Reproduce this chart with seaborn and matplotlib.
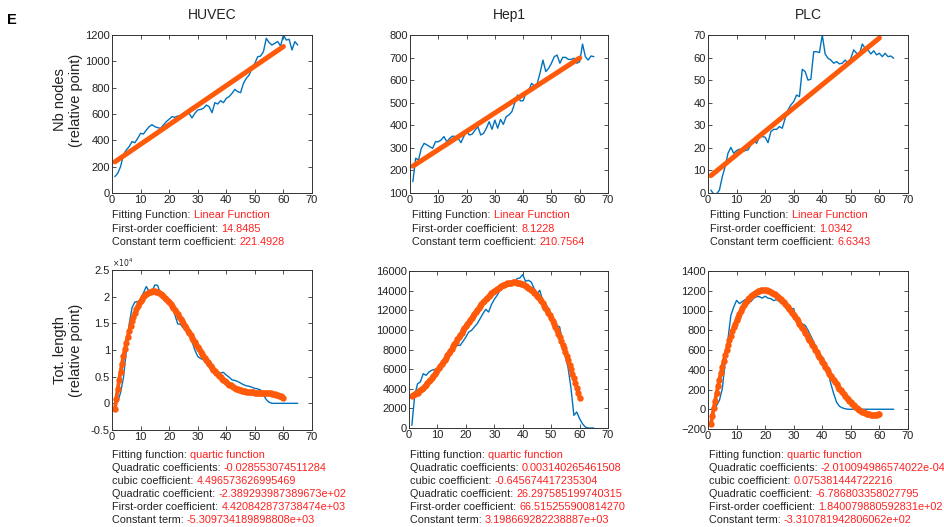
import numpy as np
import pandas as pd
import seaborn as sns
import matplotlib.pyplot as plt

# Raw curves, x = 1..65
days = list(range(1, 66))

huvec_nodes = [124, 150, 200, 290, 327, 352, 390, 382, 415, 453,
               448, 478, 504, 519, 504, 496, 491, 516, 542, 560,
               580, 575, 585, 585, 592, 618, 605, 570, 605, 630,
               635, 643, 668, 656, 610, 686, 676, 701, 686, 719,
               732, 757, 787, 770, 762, 833, 871, 896, 947, 985,
               1035, 1040, 1073, 1175, 1142, 1124, 1137, 1150, 1116, 1200,
               1162, 1167, 1086, 1150, 1124]
hep1_nodes = [150, 254, 246, 298, 320, 313, 305, 298, 327, 327,
              335, 350, 327, 342, 352, 350, 342, 323, 350, 372,
              357, 361, 379, 394, 357, 364, 387, 416, 382, 423,
              387, 426, 404, 438, 446, 460, 497, 534, 508, 509,
              542, 556, 586, 574, 586, 633, 689, 638, 652, 675,
              704, 711, 675, 701, 701, 692, 692, 697, 675, 682,
              760, 704, 689, 707, 704]
plc_nodes = [1.3, -0.5, -0.4, 1.3, 7.2, 11.7, 17.6, 20.2, 17.6, 18.8,
             19.4, 18.3, 18.8, 19.1, 21.3, 23.5, 22.0, 25.0, 25.0, 24.7,
             22.3, 27.2, 28.2, 28.2, 29.4, 28.7, 33.1, 36.8, 39.0, 40.5,
             43.4, 42.7, 54.8, 53.8, 50.0, 50.4, 62.6, 62.6, 62.2, 70.0,
             61.6, 59.7, 58.9, 57.5, 58.2, 57.2, 57.5, 58.9, 57.5, 59.7,
             63.4, 61.9, 61.6, 66.0, 64.1, 63.4, 61.6, 63.0, 61.2, 61.9,
             60.4, 61.9, 60.4, 60.7, 59.7]

huvec_len = [-400, 300, 2000, 4800, 9800, 14800, 17900, 19000, 19100, 19400,
             20700, 21900, 21000, 21000, 22200, 22100, 20400, 19600, 19300, 19100,
             18200, 16600, 14900, 14800, 14100, 13600, 12800, 11600, 10000, 8800,
             8400, 8200, 7500, 6800, 6300, 6000, 5800, 5700, 5800, 5300,
             4900, 4400, 4300, 4100, 3800, 3500, 3300, 3200, 3000, 2800,
             2700, 2500, 1600, 700, 200, 0, 0, 0, 0, 0,
             0, 0, 0, 0, 0]
hep1_len = [270, 3300, 4500, 4700, 5540, 5370, 5700, 5880, 5980, 5770,
            6220, 6730, 7070, 7130, 7750, 8250, 8420, 8420, 8830, 9270,
            9780, 9950, 10300, 10630, 11140, 11650, 12090, 11820, 12570, 13110,
            13520, 14030, 14610, 14540, 14610, 14710, 14880, 15220, 15290, 15630,
            14950, 15050, 14880, 14200, 13690, 14030, 13010, 12670, 12160, 11140,
            10630, 10460, 10290, 8760, 7400, 6050, 4010, 1290, 1630, 950,
            440, 100, 0, 0, 0]
plc_len = [0, 0, 37, 90, 207, 478, 714, 950, 1035, 1103,
           1070, 1090, 1110, 1100, 1090, 1125, 1140, 1140, 1125, 1145,
           1125, 1120, 1100, 1110, 1090, 1070, 1050, 1020, 1020, 1020,
           900, 883, 866, 850, 800, 741, 680, 620, 562, 528,
           478, 376, 257, 157, 72, 30, 14, 5, 0, 0,
           0, 0, 0, 0, 0, 0, 0, 0, 0, 0,
           0, 0, 0, 0, 0]

# Fit coefficients as printed under each panel (highest order first)
huvec_lin = ["14.8485", "221.4928"]
hep1_lin = ["8.1228", "210.7564"]
plc_lin = ["1.0342", "6.6343"]

huvec_quart = ["-0.028553074511284", "4.496573626995469", "-2.389293987389673e+02",
               "4.420842873738474e+03", "-5.309734189898808e+03"]
hep1_quart = ["0.003140265461508", "-0.645674417235304", "26.297585199740315",
              "66.515255900814270", "3.198669282238887e+03"]
plc_quart = ["-2.010094986574022e-04", "0.075381444722216", "-6.786803358027795",
             "1.840079880592831e+02", "-3.310781942806062e+02"]

titles = ["HUVEC", "Hep1", "PLC"]
lin_labels = ["Fitting Function:", "First-order coefficient:", "Constant term coefficient:"]
quart_labels = ["Fitting function:", "Quadratic coefficients:", "cubic coefficient:",
                "Quadratic coefficient:", "First-order coefficient:", "Constant term:"]

BLUE = "#0072BD"
ORANGE = "#FF5A0A"
RED = "#FF1F1F"
INK = "#222222"
W, H = 944, 527
FS = 7.8

sns.set_style("ticks")
plt.rcParams["font.family"] = ["Liberation Sans", "DejaVu Sans"]
plt.rcParams["axes.edgecolor"] = "#333333"
plt.rcParams["axes.linewidth"] = 0.7

fig = plt.figure(figsize=(W / 100, H / 100), dpi=100)


def px_axes(l, t, r, b):
    return fig.add_axes([l / W, 1 - b / H, (r - l) / W, (b - t) / H])


def fig_text(x, y, s, **kw):
    return fig.text(x / W, 1 - y / H, s, **kw)


def label_line(ax, x, y, black, red):
    t = fig_text(x, y, black, fontsize=FS, color=INK, va="center", ha="left")
    ax.annotate(red, xy=(1, 0), xycoords=t, xytext=(2.3, 0), textcoords="offset points",
                fontsize=FS, color=RED, va="bottom", ha="left", annotation_clip=False)


def style_axes(ax, ylim, yticks, fmt=None):
    ax.set_xlim(0, 70)
    ax.set_xticks(range(0, 71, 10))
    ax.set_ylim(*ylim)
    ax.set_yticks(yticks)
    if fmt is not None:
        ax.yaxis.set_major_formatter(fmt)
    ax.set(xlabel="", ylabel="")
    ax.tick_params(direction="in", top=True, right=True, length=3, width=0.6,
                   labelsize=8, pad=1.5, colors="#333333", labelcolor=INK)
    for s in ax.spines.values():
        s.set_visible(True)


top_boxes = [(112, 35, 312, 193), (410, 35, 608, 193), (708, 35, 908, 193)]
bot_boxes = [(112, 270, 312, 430), (409, 271, 608, 428), (708, 271, 908, 429)]

nodes = [huvec_nodes, hep1_nodes, plc_nodes]
lengths = [huvec_len, hep1_len, plc_len]
lins = [huvec_lin, hep1_lin, plc_lin]
quarts = [huvec_quart, hep1_quart, plc_quart]
top_lims = [((0, 1200), range(0, 1201, 200)), ((100, 800), range(100, 801, 100)),
            ((0, 70), range(0, 71, 10))]
bot_lims = [((-5000, 25000), range(-5000, 25001, 5000)), ((0, 16000), range(0, 16001, 2000)),
            ((-200, 1400), range(-200, 1401, 200))]
text_x_top = [112, 412, 710]
text_x_bot = [112, 410, 709]

x_lin = np.array([1, 60])
x_quart = np.arange(1, 60.5, 0.5)

for i in range(3):
    # top row: node counts with linear fit
    ax = px_axes(*top_boxes[i])
    df = pd.DataFrame({"x": days, "y": nodes[i]})
    sns.lineplot(data=df, x="x", y="y", ax=ax, color=BLUE, lw=1.0)
    fit = pd.DataFrame({"x": x_lin, "y": np.polyval([float(c) for c in lins[i]], x_lin)})
    sns.lineplot(data=fit, x="x", y="y", ax=ax, color=ORANGE, lw=3.6,
                 solid_capstyle="round")
    style_axes(ax, *top_lims[i])
    cx = (top_boxes[i][0] + top_boxes[i][2]) / 2
    fig_text(cx, 15, titles[i], fontsize=10, color=INK, ha="center", va="center")
    vals = ["Linear Function"] + lins[i]
    for j, (lab, v) in enumerate(zip(lin_labels, vals)):
        label_line(ax, text_x_top[i], 215 + j * 13.5, lab, v)

    # bottom row: total length with quartic fit
    ax = px_axes(*bot_boxes[i])
    df = pd.DataFrame({"x": days, "y": lengths[i]})
    sns.lineplot(data=df, x="x", y="y", ax=ax, color=BLUE, lw=1.0)
    fit = pd.DataFrame({"x": x_quart,
                        "y": np.polyval([float(c) for c in quarts[i]], x_quart)})
    sns.lineplot(data=fit, x="x", y="y", ax=ax, color=ORANGE, lw=2.8,
                 marker="o", ms=4.6, mec=ORANGE, mfc=ORANGE, mew=0)
    fmt = None
    if i == 0:
        fmt = plt.FuncFormatter(lambda v, _: f"{v / 1e4:g}")
        ax.text(0.0, 1.005, r"$\times10^4$", transform=ax.transAxes, fontsize=5.5,
                color=INK, ha="left", va="bottom")
    style_axes(ax, *bot_lims[i], fmt=fmt)
    vals = ["quartic function"] + quarts[i]
    for j, (lab, v) in enumerate(zip(quart_labels, vals)):
        label_line(ax, text_x_bot[i], 455 + j * 13, lab, v)

fig_text(68, 100, "Nb nodes\n(relative point)", fontsize=10.5, color=INK, rotation=90,
         ha="center", va="center", linespacing=1.1)
fig_text(68, 350, "Tot. length\n(relative point)", fontsize=10.5, color=INK, rotation=90,
         ha="center", va="center", linespacing=1.1)
fig_text(12, 20, "E", fontsize=10.5, fontweight="bold", color="black", ha="center", va="center")

fig.savefig("out.png", dpi=100, facecolor="white")
